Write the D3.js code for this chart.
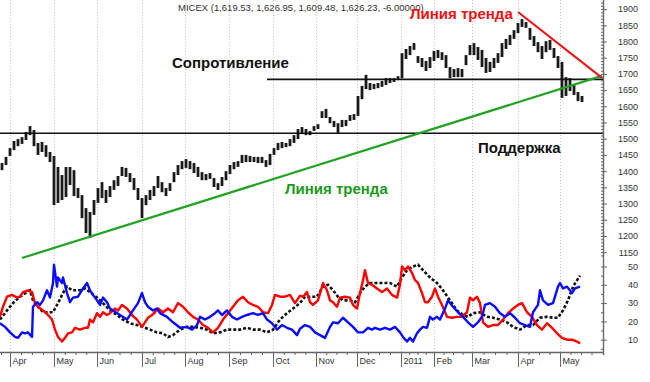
<!DOCTYPE html>
<html>
<head>
<meta charset="utf-8">
<script src="https://cdn.jsdelivr.net/npm/d3@7"></script>
<style>
  body { margin: 0; background: #fff; }
  svg { display: block; font-family: Arial, "Liberation Sans", sans-serif; }
</style>
</head>
<body>
<svg width="650" height="382"></svg>
<script>
// daily bars (one every bar slot), high / low of MICEX
const highs = [1425,1444,1471,1493,1499,1505,1521,1539,1527,1487,1490,1480,1459,1447,1413,1388,1413,1413,1403,1348,
  1326,1286,1274,1311,1348,1366,1342,1354,1372,1385,1413,1410,1394,1379,1348,1317,1326,1342,1354,1385,
  1366,1348,1363,1397,1419,1431,1437,1431,1425,1413,1397,1391,1394,1379,1363,1382,1400,1419,1428,1431,
  1450,1450,1447,1444,1444,1444,1434,1453,1471,1487,1490,1487,1499,1511,1530,1536,1530,1524,1539,1545,
  1585,1592,1567,1555,1548,1558,1558,1573,1576,1632,1663,1697,1672,1669,1672,1678,1687,1687,1687,1693,
  1764,1777,1786,1795,1755,1749,1740,1752,1771,1774,1767,1758,1721,1715,1718,1715,1758,1789,1795,1783,
  1774,1749,1737,1749,1764,1795,1808,1820,1835,1857,1869,1860,1842,1817,1798,1786,1801,1805,1780,1755,
  1737,1690,1687,1669,1644,1632];
const lows = [1403,1419,1447,1465,1477,1484,1496,1511,1477,1450,1459,1444,1428,1295,1302,1311,1320,1357,1323,1317,
  1255,1209,1194,1265,1302,1317,1302,1320,1342,1354,1385,1382,1366,1342,1311,1255,1295,1311,1323,1348,
  1335,1323,1339,1366,1388,1406,1410,1406,1394,1382,1372,1372,1376,1351,1342,1354,1372,1391,1406,1413,
  1425,1428,1428,1428,1425,1425,1413,1419,1450,1465,1471,1474,1477,1487,1499,1514,1511,1511,1524,1530,
  1564,1564,1548,1536,1518,1536,1539,1555,1558,1570,1622,1653,1650,1653,1656,1660,1666,1672,1675,1681,
  1687,1746,1758,1774,1734,1721,1709,1718,1740,1749,1743,1718,1687,1690,1690,1690,1727,1758,1758,1743,
  1721,1703,1706,1718,1734,1752,1777,1789,1808,1826,1845,1842,1805,1786,1767,1746,1767,1774,1749,1718,
  1626,1632,1647,1635,1616,1613];

// indicator lines: [bar slot, value]
const blueLine = [[-0.5,19],[0.75,17],[2,14],[3.25,11.5],[4,11],[5,14],[5.75,13.5],[6.5,14],[7.5,11.5],[7.75,28],
  [8.75,30.5],[9.5,29],[10.25,31.5],[11.25,37],[12,33],[12.75,41],[13,51],[13.75,39],[14,44],[15,41],[15.25,44],
  [16.25,35.5],[17,30.5],[17.75,33],[19,33.5],[20.25,38],[21.25,41],[22,37],[22.75,34.5],[23.75,31.5],[24.5,29],
  [25.25,33],[26.25,30.5],[27,27],[27.75,26],[29.5,23.5],[31.25,21],[32.75,26],[34,30],[35,35.5],[35.75,30.5],
  [36.5,28],[37.75,26],[38.75,27],[39.5,24.5],[41.25,22.5],[42.75,19.5],[44.5,16.5],[46.25,17],[47.5,15.5],
  [48.75,18],[49.5,22.5],[50.75,21],[52,22.5],[53.25,24.5],[54,26],[55,23.5],[56.25,26],[57.5,22.5],[58.75,21],
  [60,22.5],[61.25,23.5],[62.75,24.5],[64,23.5],[65.25,24.5],[66.25,21],[67.5,19],[68.75,15.5],[70,18],
  [71.25,16.5],[72.5,15.5],[73.75,12.5],[74.5,16],[75.75,18],[77,17],[78.25,14],[79.5,12.5],[80.75,11],[82,17],
  [82.75,19.5],[84,19],[85.25,22],[86.5,19.5],[87.75,17],[89,14],[90.25,14],[91.5,16.5],[92.5,15.5],[93.25,16.5],
  [94.5,15.5],[95.75,16.5],[97,15.5],[98.25,17],[99.5,14],[100.25,11.5],[101.25,9],[102,11],[102.75,9],
  [103.75,13.5],[104.5,15.5],[105.25,17],[106.25,16.5],[107,22.5],[107.75,21],[108.75,22.5],[109.5,21],
  [110.75,27],[111.5,31.5],[112.75,28],[114,25],[115.25,22.5],[116.5,19.5],[117.75,17],[119,19.5],[120,22.5],
  [120.75,29],[122,30],[123.25,28],[124.5,24.5],[125.75,22.5],[127,24.5],[128.25,22],[129.5,19],[130.75,18],
  [132,17],[132.75,25],[134,29],[134.5,37],[135.25,31.5],[136.5,29],[137.75,30],[139,39],[139.5,41],
  [140.25,38],[141.25,39],[142.5,35.5],[143.25,38],[144.5,39]];
const redLine = [[-0.5,22.5],[0.25,28],[1.25,33.5],[2.5,34.5],[3.75,33],[4.5,33.5],[5.25,36],[6.5,37],[7.5,36],
  [8.25,30],[9,28],[10.25,26],[11.5,23.5],[12.5,21],[13.25,15.5],[14,11.5],[15,9],[15.75,11],[16.5,13.5],
  [17.5,14],[18.25,16.5],[19.5,15.5],[20.75,16.5],[21.5,16.5],[22,21],[22.75,19.5],[23.75,24.5],[24.5,22.5],
  [25.25,25],[26.25,23.5],[27,24.5],[28.25,27],[29,26],[30,29],[31.25,27],[32.5,23.5],[33.75,21],[35,17],
  [35.75,19.5],[36.5,22],[37.5,23.5],[38.25,25],[39,27],[40.25,25],[41.5,27],[42.75,25],[44,30],[45.25,28],
  [46.5,25],[47.75,22.5],[49,21],[50.25,18],[51.5,16.5],[52.75,14],[54,16.5],[55.25,21],[56.5,24.5],[57.75,28],
  [59,31.5],[60.25,33.5],[61.5,30.5],[62.75,29],[64,28],[65.25,25],[66.5,24.5],[67.5,29],[68.25,34.5],
  [69.5,33.5],[70.75,33.5],[72,34.5],[73.25,30],[74.5,34],[75.25,33.5],[76.25,36],[77,30.5],[77.75,29],
  [79,31.5],[80.25,41],[81.25,37],[82,31.5],[82.75,30.5],[83.75,28],[84.5,33],[85.75,33.5],[87,33],
  [87.75,29],[88.75,27],[89.5,35.5],[90.25,42.5],[90.75,48],[91.5,41],[92.5,40],[93.75,38],[95,36],
  [96.25,38],[97.5,34.5],[98.75,33],[99.5,40],[100,50],[100.75,48],[101.5,50],[102.5,46.5],[103.25,42.5],
  [104,41],[105,35.5],[105.75,30.5],[106.5,30.5],[107.5,33.5],[108.25,38],[109,33.5],[110,29],[111.25,22.5],
  [112.5,22],[113.75,22.5],[115,22.5],[116.25,25],[117,33],[117.75,31.5],[118.75,33.5],[119.5,30],
  [120.25,19.5],[121.5,17],[122.75,18],[124,18],[125.25,21],[126.5,24.5],[127.75,27],[129,29],[130,30],
  [131.25,25],[132.5,22.5],[133.75,18],[135,15.5],[136.25,19],[137.5,16.5],[138.75,13.5],[140,11],
  [141.25,10],[142.5,10],[143.75,9],[144.5,8]];
const blackLine = [[-0.5,21],[1.25,26],[2.75,30],[4.5,33.5],[6.25,36],[7,37],[7.75,31.5],[9,28],[10.25,25],
  [11.5,25],[12.75,25],[14,30],[15.25,35.5],[16.25,39],[17.5,37],[19.5,37],[20.75,38],[22,36],[23.75,33],
  [25.25,30],[27,26],[28.75,23.5],[30.25,21],[32,19],[33.75,18],[35.25,17],[37,15.5],[38.75,14],[40.25,13.5],
  [41.5,11.5],[42.75,12.5],[44.5,15.5],[46.25,17],[47.75,17],[49.5,16.5],[51.25,15.5],[52.75,13.5],[54.5,14],
  [56.25,15.5],[57.75,15.5],[59.5,15.5],[61.25,16.5],[62.75,15.5],[64.5,15.5],[66.25,14],[67.75,15.5],
  [69.5,21],[71.25,24.5],[72.75,27],[74.5,30],[75.75,33.5],[77,33.5],[78.75,33.5],[80.25,39],[81.5,40],
  [82.75,37],[84,33.5],[85.25,31.5],[87,31.5],[88.25,30.5],[89.5,35.5],[90.75,39],[92,41],[94.5,41],[97,41],
  [98.75,39],[100,44],[101.25,48],[102.75,50],[104,51],[105.25,48],[107,44],[108.75,41],[110.25,37],
  [112,31.5],[113.75,26],[115.25,23.5],[116.5,22.5],[117.75,24.5],[119.5,25],[121.25,22.5],[122.75,22],
  [124.5,21],[126.25,19.5],[127.75,17],[129.5,15.5],[131.25,18],[132.75,18],[134.5,22],[136.25,22.5],
  [137.75,22],[139,22],[140.25,26],[141.5,31.5],[142.75,39],[144.5,45]];

// hand-drawn lines: [bar slot, price]
const supportLine = [[-0.5,1517],[150.25,1517]];
const resistLine = [[66.25,1683],[150.25,1683]];
const greenTrend = [[5,1132],[150,1694]];
const redTrend = [[129,1891],[150,1688]];

// month ticks on the bar slot axis
const monthLabels = ['Apr','May','Jun','Jul','Aug','Sep','Oct','Nov','Dec','2011','Feb','Mar','Apr','May'];
const monthSlots = [2,13,23.75,35,45.75,56.75,67.75,78.5,88.75,99.75,108,117.5,129,139.5];
const priceTicks = d3.range(1150, 1901, 50);
const indTicks = [10,20,30,40,50];

const svg = d3.select('svg');
const axisX = 603, axisY = 352;

const x = d3.scaleLinear().domain([-0.5, 150.25]).range([0, axisX]);
const yP = d3.scaleLinear().domain([1928, 1132]).range([0, 258]);
const yI = d3.scaleLinear().domain([0, 50]).range([358, 266.5]);

// vertical month grid
svg.append('g').selectAll('line').data(monthSlots).enter().append('line')
  .attr('x1', d => Math.round(x(d)) + 0.5).attr('x2', d => Math.round(x(d)) + 0.5)
  .attr('y1', 0).attr('y2', axisY)
  .attr('stroke', '#c4c4c4').attr('stroke-dasharray', '1,2');

// price bars
svg.append('g').selectAll('line').data(highs).enter().append('line')
  .attr('x1', (d, i) => x(i)).attr('x2', (d, i) => x(i))
  .attr('y1', d => yP(d)).attr('y2', (d, i) => yP(lows[i]))
  .attr('stroke', '#1a1a1a').attr('stroke-width', 2.8);

const lineP = d3.line().x(d => x(d[0])).y(d => yP(d[1]));
svg.append('path').attr('d', lineP(supportLine)).attr('stroke', '#111').attr('stroke-width', 1.6).attr('fill', 'none');
svg.append('path').attr('d', lineP(resistLine)).attr('stroke', '#111').attr('stroke-width', 1.6).attr('fill', 'none');
svg.append('path').attr('d', lineP(greenTrend)).attr('stroke', '#22a322').attr('stroke-width', 2.2).attr('fill', 'none');
svg.append('path').attr('d', lineP(redTrend)).attr('stroke', '#e81818').attr('stroke-width', 2.2).attr('fill', 'none');

// indicator panel
const lineI = d3.line().x(d => x(d[0])).y(d => yI(d[1]));
svg.append('path').attr('d', lineI(blackLine)).attr('stroke', '#111').attr('stroke-width', 2.6)
  .attr('stroke-dasharray', '3,2').attr('fill', 'none');
svg.append('path').attr('d', lineI(redLine)).attr('stroke', '#f00').attr('stroke-width', 2.4).attr('fill', 'none')
  .attr('stroke-linejoin', 'round');
svg.append('path').attr('d', lineI(blueLine)).attr('stroke', '#0a0aff').attr('stroke-width', 2.4).attr('fill', 'none')
  .attr('stroke-linejoin', 'round');

// right axes
const gP = svg.append('g').attr('transform', `translate(${axisX},0)`)
  .call(d3.axisRight(yP).tickValues(priceTicks).tickSize(4).tickSizeOuter(0).tickFormat(d3.format('d')));
const gPm = svg.append('g').attr('transform', `translate(${axisX},0)`)
  .call(d3.axisLeft(yP).tickValues(d3.range(1140, 1921, 10)).tickSize(2).tickFormat(''));
const gI = svg.append('g').attr('transform', `translate(${axisX},0)`)
  .call(d3.axisRight(yI).tickValues(indTicks).tickSize(4).tickSizeOuter(0));
const gIm = svg.append('g').attr('transform', `translate(${axisX},0)`)
  .call(d3.axisLeft(yI).tickValues(d3.range(5, 51, 5)).tickSize(2).tickFormat(''));
[gP, gPm, gI, gIm].forEach(g => {
  g.select('.domain').remove();
  g.selectAll('line').attr('stroke', '#666');
  g.selectAll('text').attr('text-anchor', 'end').attr('x', 35)
    .attr('fill', '#333').style('font-size', '9px').style('font-family', 'Arial, "Liberation Sans", sans-serif');
});
svg.append('line').attr('x1', axisX + 0.5).attr('x2', axisX + 0.5).attr('y1', 0).attr('y2', axisY + 3)
  .attr('stroke', '#666').attr('stroke-width', 1.4);

// bottom axis
const minorSlots = [];
monthSlots.forEach((m, i) => {
  const next = i < monthSlots.length - 1 ? monthSlots[i + 1] : m + 10.5;
  [1, 2, 3].forEach(k => { const v = m + (next - m) * k / 4; if (x(v) < axisX - 2) minorSlots.push(v); });
});
minorSlots.unshift(-0.25);
const gX = svg.append('g').attr('transform', `translate(0,${axisY})`)
  .call(d3.axisBottom(x).tickValues(monthSlots).tickSize(15).tickSizeOuter(0)
    .tickFormat((d, i) => monthLabels[i]));
gX.select('.domain').remove();
gX.selectAll('line').attr('stroke', '#666');
gX.selectAll('text').attr('text-anchor', 'start').attr('x', 2).attr('y', 6).attr('dy', '0.71em')
  .attr('fill', '#333').style('font-size', '9px').style('font-family', 'Arial, "Liberation Sans", sans-serif');
const gXm = svg.append('g').attr('transform', `translate(0,${axisY})`)
  .call(d3.axisBottom(x).tickValues(minorSlots).tickSize(3).tickSizeOuter(0).tickFormat(''));
gXm.select('.domain').remove();
gXm.selectAll('line').attr('stroke', '#666');
svg.append('line').attr('x1', 0).attr('x2', axisX + 1).attr('y1', axisY + 0.5).attr('y2', axisY + 0.5)
  .attr('stroke', '#666').attr('stroke-width', 1.4);

// texts
svg.append('text').attr('x', 178).attr('y', 10.5).attr('fill', '#333').style('font-size', '9.5px')
  .text('MICEX (1,619.53, 1,626.95, 1,609.48, 1,626.23, -6.00000)');
const bold = (t, px, py, col) => svg.append('text').attr('x', px).attr('y', py).attr('fill', col)
  .style('font-size', '15px').style('font-weight', 'bold').text(t);
bold('Линия тренда', 410, 19, '#ee1111');
bold('Сопротивление', 172, 68, '#111');
bold('Поддержка', 478, 153, '#111');
bold('Линия тренда', 285, 194, '#1a9a1a');
</script>
</body>
</html>
